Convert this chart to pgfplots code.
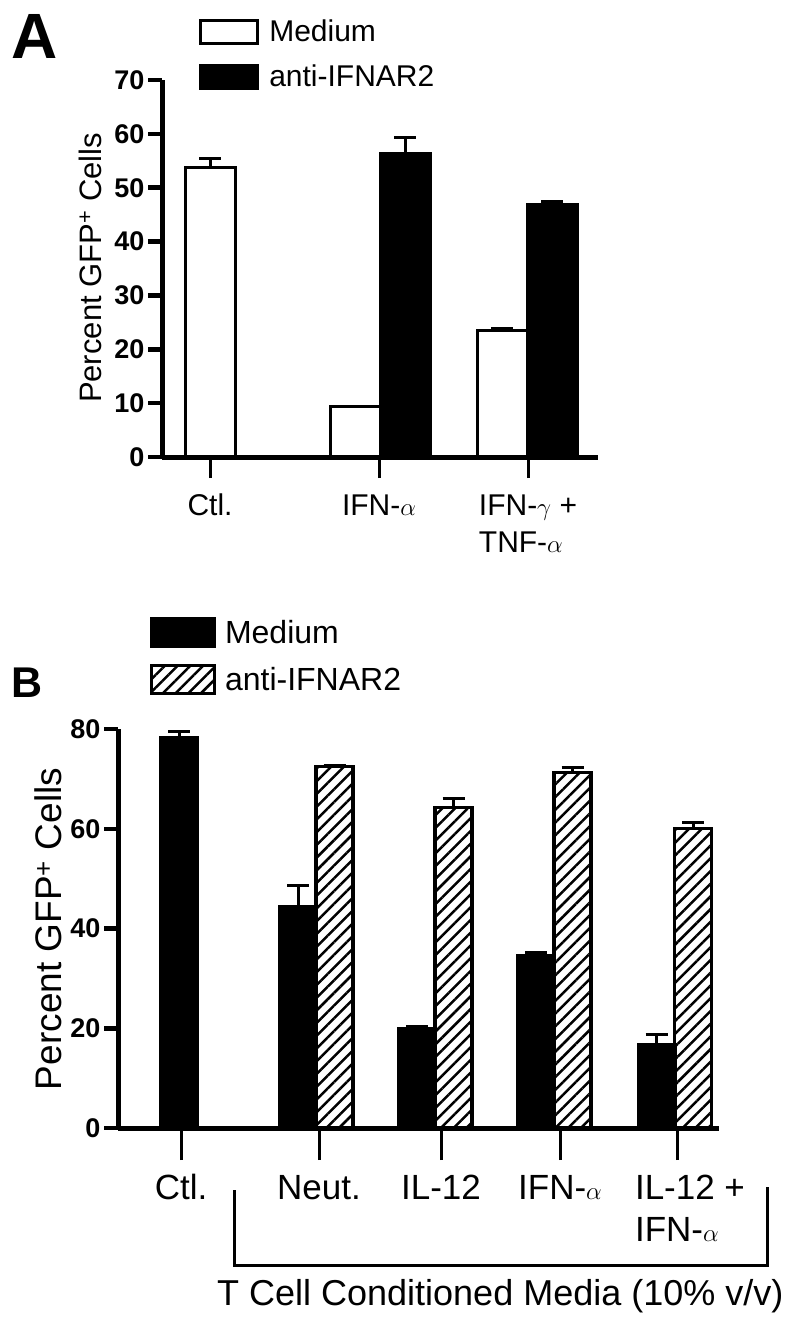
\documentclass[border=0pt]{standalone}
\usepackage{fontspec}
\setmainfont{Liberation Sans}
\usepackage{pgfplots}
\pgfplotsset{compat=1.18}
\usetikzlibrary{patterns.meta}

\newcommand\fs[2]{\fontsize{#1}{#2}\selectfont}

\pgfplotsset{
  panel/.style={
    scale only axis,
    anchor=south west,
    axis lines=left,
    axis line style={-, line width=5pt},
    axis on top,
    tick align=outside,
    major tick length=14pt,
    ytick style={line width=4.5pt, black},
    /pgf/number format/assume math mode=true,
    error bars/y dir=plus,
    error bars/y explicit,
    error bars/error mark=-,
    error bars/error bar style={line width=3pt, black},
    error bars/error mark options={rotate=90, line width=3pt, black, mark size=11pt},
    legend cell align=left,
  },
}

\begin{document}
\begin{tikzpicture}[x=1pt,y=1pt]
\useasboundingbox (0,0) rectangle (800,-1327);

% ---------- panel A ----------
\begin{axis}[panel,
  at={(162pt,-457pt)}, width=436pt, height=377pt,
  xmin=162, xmax=598, ymin=0, ymax=70,
  ytick={0,10,...,70},
  xtick={210,379,528},
  xticklabels={Ctl., IFN-$\alpha$, {\begin{tabular}[t]{@{}l@{}}IFN-$\gamma$ +\\TNF-$\alpha$\end{tabular}}},
  yticklabel style={font=\fs{27}{30}\bfseries},
  xticklabel style={font=\fs{30}{37}, anchor=base, yshift=-44pt},
  xtick style={line width=3pt, black, /pgfplots/major tick length=21pt},
  legend style={at={(0.085,1.165)}, anchor=north west, draw=none, fill=none,
    font=\fs{30}{36}, row sep=18pt, column sep=8pt, inner sep=0pt},
  legend image code/.code={\draw[#1,/tikz/.cd,line width=3pt] (0pt,-11.5pt) rectangle (57pt,11.5pt);},
]
\addplot[ybar, bar shift=0pt, bar width=50, fill=white, draw=black, line width=3pt]
  coordinates {(210,53.7) +- (0,1.8) (355,9.3) +- (0,0) (502,23.4) +- (0,0.5)};
\addplot[ybar, bar shift=0pt, bar width=50, fill=black, draw=black, line width=3pt]
  coordinates {(405,56.3) +- (0,3.1) (552,46.8) +- (0,0.7)};
\legend{Medium, anti-IFNAR2}
\end{axis}

\node[font=\fs{64}{64}\bfseries] at (35,-36) {A};
\node[rotate=90, font=\fs{31}{36}] at (90,-268) {Percent GFP\textsuperscript{+} Cells};

% ---------- panel B ----------
\begin{axis}[panel,
  at={(118pt,-1128pt)}, width=601pt, height=399pt,
  xmin=118, xmax=719, ymin=0, ymax=80,
  ytick={0,20,...,80},
  xtick={181,319,441,560,677},
  xticklabels={Ctl., Neut., IL-12, IFN-$\alpha$,
    {\hspace*{26pt}\begin{tabular}[t]{@{}l@{}}IL-12 +\\IFN-$\alpha$\end{tabular}}},
  yticklabel style={font=\fs{27}{30}\bfseries},
  xticklabel style={font=\fs{35}{42}, anchor=base, yshift=-57pt},
  xtick style={line width=3pt, black, /pgfplots/major tick length=32pt},
  legend style={at={(0.053,1.281)}, anchor=north west, draw=none, fill=none,
    font=\fs{32}{38}, row sep=16pt, column sep=7pt, inner sep=0pt},
  legend image code/.code={\draw[#1,/tikz/.cd,line width=3pt] (0pt,-14pt) rectangle (63pt,14pt);},
]
\addplot[ybar, bar shift=0pt, bar width=37, fill=black, draw=black, line width=3pt]
  coordinates {(179,78.2) +- (0,1.4) (298,44.5) +- (0,4.2) (417,20.0) +- (0,0.4)
               (536,34.5) +- (0,0.6) (656.5,16.8) +- (0,2.0)};
\addplot[ybar, bar shift=0pt, bar width=37, draw=black, line width=3.5pt,
  pattern={Lines[angle=45, distance=9pt, line width=2.5pt]}, pattern color=black]
  coordinates {(334.5,72.5) +- (0,0.2) (453.5,64.3) +- (0,1.8)
               (572.5,71.3) +- (0,1.0) (693,60.1) +- (0,1.2)};
\legend{Medium, anti-IFNAR2}
\end{axis}

\node[font=\fs{43}{43}\bfseries] at (27.5,-682.5) {B};
\node[rotate=90, font=\fs{37}{44}] at (48,-929) {Percent GFP\textsuperscript{+} Cells};

\draw[line width=3pt] (234,-1190) -- (234,-1265) -- (767,-1265) -- (767,-1187);
\node[anchor=base west, inner sep=0pt, font=\fs{36}{42}] at (217,-1305) {T Cell Conditioned Media (10\% v/v)};
\end{tikzpicture}
\end{document}
